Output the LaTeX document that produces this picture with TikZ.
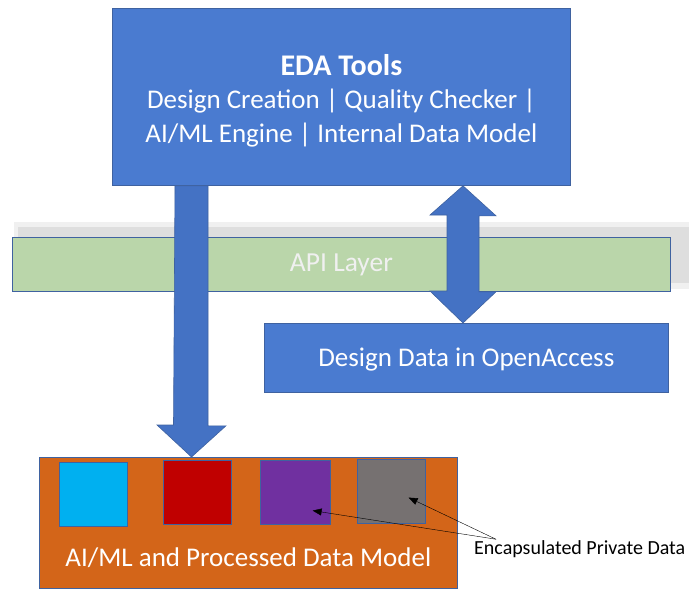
\documentclass[tikz,border=0pt]{standalone}
\usepackage{fontspec}
\setmainfont{Carlito}
\usetikzlibrary{positioning,calc,arrows.meta}
\definecolor{edablue}{HTML}{4A7BD0}
\definecolor{arrowblue}{HTML}{4472C4}
\definecolor{edgeblue}{HTML}{3F62A0}
\definecolor{apigreen}{HTML}{BAD6AA}
\definecolor{modelorange}{HTML}{D36519}
\definecolor{sqcyancol}{HTML}{00B0F0}
\definecolor{sqredcol}{HTML}{C00000}
\definecolor{sqpurplecol}{HTML}{7030A0}
\definecolor{sqgraycol}{HTML}{767171}

\begin{document}
\begin{tikzpicture}[x=1pt, y=-1pt,
	box/.style={draw=edgeblue, line width=0.8pt, inner sep=0pt, anchor=north west},
	square/.style={box, line width=1.2pt, minimum width=68pt, minimum height=64pt},
	blockarrow/.style={fill=arrowblue, draw=edgeblue, line width=0.6pt, line join=miter}]
	\useasboundingbox (0,0) rectangle (689,589);

	% boxes
	\node[box, fill=edablue, minimum width=458pt, minimum height=177pt] (eda) at (112,8) {};
	\node[inner sep=0pt, text=white, align=center, font=\fontsize{27}{33.5}\selectfont] (edatxt) at ($(eda.center)+(0,4)$) {{\fontsize{30}{33.5}\selectfont\bfseries EDA Tools}\\[-0.5pt]Design Creation | Quality Checker |\\AI/ML Engine | Internal Data Model};
	\fill[black!6] (14,222) rectangle (689,289);
	\fill[black!13] (18,227) rectangle (689,283);
	\node[box, fill=apigreen, minimum width=658pt, minimum height=54pt, text=white!94!black, font=\fontsize{27.5}{30}\selectfont] (api) at (12,237) {API Layer};
	\node[box, fill=edablue, minimum width=404pt, minimum height=69pt, text=white, font=\fontsize{27}{30}\selectfont, text depth=2pt] (oa) at (264,323) {Design Data in OpenAccess};
	\node[box, fill=modelorange, minimum width=418pt, minimum height=131pt] (model) at (39,457) {};
	\node[above=21pt of model.south, inner sep=0pt, text=white, font=\fontsize{27}{30}\selectfont] (modeltxt) {AI/ML and Processed Data Model};

	% private data squares
	\node[square, fill=sqcyancol] (sqcyan) at (59,462) {};
	\node[square, fill=sqredcol] (sqred) at (163,460) {};
	\node[square, fill=sqpurplecol, minimum width=70pt] (sqpurple) at (260,460) {};
	\node[square, fill=sqgraycol] (sqgray) at (357,459) {};

	% block arrows
	\coordinate (downx) at (191.5,0);
	\coordinate (upx) at (463,0);
	\draw[blockarrow] ($(eda.south -| downx)+(-16.5,0)$) -- ++(33,0) -- ++(0,240) -- ++(18,0) -- (model.north -| downx) -- ++(-34.5,-32) -- ++(16.5,0) -- cycle;
	\draw[blockarrow] (eda.south -| upx) -- ++(33,30) -- ++(-17,0) -- ++(0,76) -- ++(17,0) -- (oa.north -| upx) -- ++(-33,-32) -- ++(17,0) -- ++(0,-76) -- ++(-17,0) -- cycle;

	% callout
	\node[anchor=west, inner sep=0pt, font=\fontsize{20}{24}\selectfont] (encap) at (474,549) {Encapsulated Private Data};
	\coordinate (encfrom) at ($(encap.north west)+(22,-1)$);
	\draw[-{Triangle[length=9pt,width=7pt]}] (encfrom) -- ($(sqpurple.center)+(17,18)$);
	\draw[-{Triangle[length=9pt,width=7pt]}] (encfrom) -- ($(sqgray.center)+(17,6)$);
\end{tikzpicture}
\end{document}
